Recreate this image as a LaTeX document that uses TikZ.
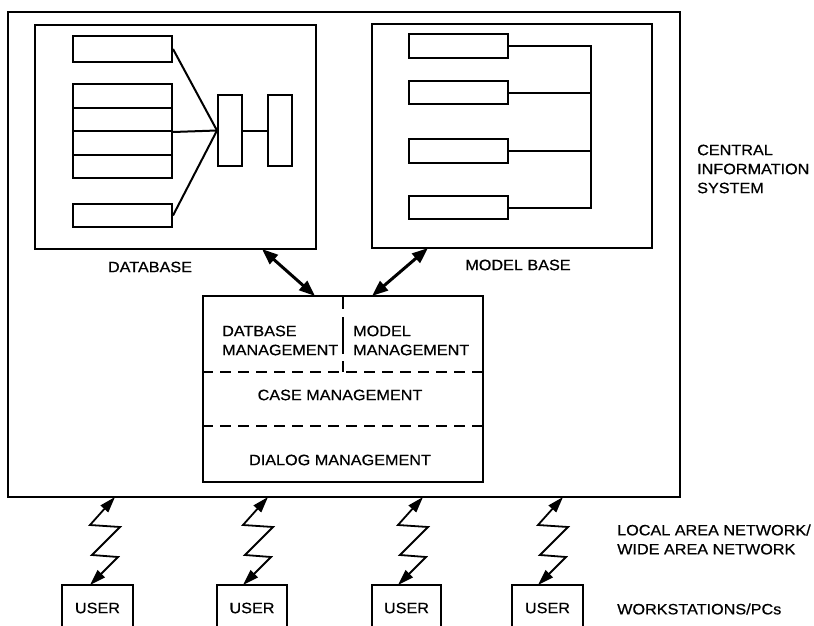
\documentclass[tikz,border=0pt]{standalone}
\usepackage{fontspec}
\setmainfont[FakeStretch=1.08,FakeBold=0.6]{Liberation Sans}
\usetikzlibrary{arrows.meta}
\begin{document}
\begin{tikzpicture}[x=1pt,y=-1pt,
  box/.style={draw, line width=2pt, inner sep=0pt, minimum width=#1},
  lbl/.style={inner sep=0pt, font=\fontsize{15}{19}\selectfont},
  dbl/.style={line width=3pt, {Triangle[length=16pt,width=12pt]}-{Triangle[length=16pt,width=12pt]}},
  zz/.style={line width=1.8pt, line join=miter, {Triangle[length=16pt,width=10pt]}-{Triangle[length=16pt,width=10pt]}},
  ln/.style={line width=2pt},
  dsh/.style={line width=2pt, dash pattern=on 11pt off 7pt},
  vdsh/.style={line width=1.6pt, dash pattern=on 14pt off 8pt on 37pt off 7pt}
]
\useasboundingbox (0,0) rectangle (814,626);
\clip (0,0) rectangle (814,626);
% central information system
\node[box=672pt, minimum height=485pt] (cis) at (344,254.5) {};
% database
\node[box=281pt, minimum height=224pt] (db) at (175.5,137) {};
\node[box=99pt, minimum height=26pt] (d1) at (122.5,49) {};
\node[box=99pt, minimum height=24pt] (s1) at (122.5,96) {};
\node[box=99pt, minimum height=23pt] (s2) at (122.5,119.5) {};
\node[box=99pt, minimum height=24pt] (s3) at (122.5,143) {};
\node[box=99pt, minimum height=23pt] (s4) at (122.5,166.5) {};
\node[box=99pt, minimum height=23pt] (d2) at (122.5,215.5) {};
\node[box=24pt, minimum height=71pt] (v1) at (230,130.5) {};
\node[box=24pt, minimum height=71pt] (v2) at (280,130.5) {};
\draw[ln] (d1.east) -- (v1.west);
\draw[ln] (s2.south east) -- (v1.west);
\draw[ln] (d2.east) -- (v1.west);
\draw[ln] (v1.east) -- (v2.west);
\node[lbl] (dbl) at (150,267) {DATABASE};
% model base
\node[box=280pt, minimum height=224pt] (mb) at (512,136) {};
\node[box=99pt, minimum height=24pt] (m1) at (458.5,46) {};
\node[box=99pt, minimum height=23pt] (m2) at (458.5,92.5) {};
\node[box=99pt, minimum height=24pt] (m3) at (458.5,151) {};
\node[box=99pt, minimum height=23pt] (m4) at (458.5,207.5) {};
\coordinate (bus) at (591,0);
\draw[ln] (m1.east) -- (m1.east -| bus) -- (m4.east -| bus) -- (m4.east);
\draw[ln] (m2.east) -- (m2.east -| bus);
\draw[ln] (m3.east) -- (m3.east -| bus);
\node[lbl] (mbl) at (518,265) {MODEL BASE};
% management
\node[box=280pt, minimum height=186pt] (mg) at (343,389) {};
\coordinate (h1) at (0,372);
\coordinate (h2) at (0,426);
\coordinate (vd) at (343,0);
\draw[dsh] (mg.west |- h1) -- (mg.east |- h1);
\draw[dsh] (mg.west |- h2) -- (mg.east |- h2);
\draw[vdsh] (mg.north -| vd) -- (h1 -| vd);
\node[lbl, anchor=west, align=left] (dbm) at (222,340.5) {DATBASE\\MANAGEMENT};
\node[lbl, anchor=west, align=left] (mdm) at (353,340.5) {MODEL\\MANAGEMENT};
\node[lbl] (cm) at (340,395) {CASE MANAGEMENT};
\node[lbl] (dm) at (340,460) {DIALOG MANAGEMENT};
% arrows
\coordinate (a1) at (262,249);
\coordinate (a2) at (315,296);
\coordinate (b1) at (428,248);
\coordinate (b2) at (372,296);
\draw[dbl] (a1) -- (a2);
\draw[dbl] (b1) -- (b2);
% right labels
\node[lbl, anchor=west, align=left] (cisl) at (697,169) {CENTRAL\\INFORMATION\\SYSTEM};
\node[lbl, anchor=west, align=left] (lan) at (617,539.5) {LOCAL AREA NETWORK/\\WIDE AREA NETWORK};
\node[lbl, anchor=west] (ws) at (617,609) {WORKSTATIONS/PCs};
% users
\node[box=71pt, minimum height=46pt, lbl, draw] (u1) at (97.5,608) {USER};
\node[box=70pt, minimum height=46pt, lbl, draw] (u2) at (252,608) {USER};
\node[box=69pt, minimum height=46pt, lbl, draw] (u3) at (406.5,608) {USER};
\node[box=71pt, minimum height=46pt, lbl, draw] (u4) at (547.5,608) {USER};
% zigzag links
\coordinate (zt1) at (115,497); \coordinate (zb1) at (90,585);
\coordinate (zt2) at (268,497); \coordinate (zb2) at (243,585);
\coordinate (zt3) at (423,497); \coordinate (zb3) at (398,585);
\coordinate (zt4) at (563,497); \coordinate (zb4) at (538,585);
\foreach \i in {1,2,3,4}{
  \draw[zz] (zt\i) -- ++(-25,28) -- ++(30,2) -- ++(-28,28) -- ++(26,2) -- (zb\i);
}
\end{tikzpicture}
\end{document}
